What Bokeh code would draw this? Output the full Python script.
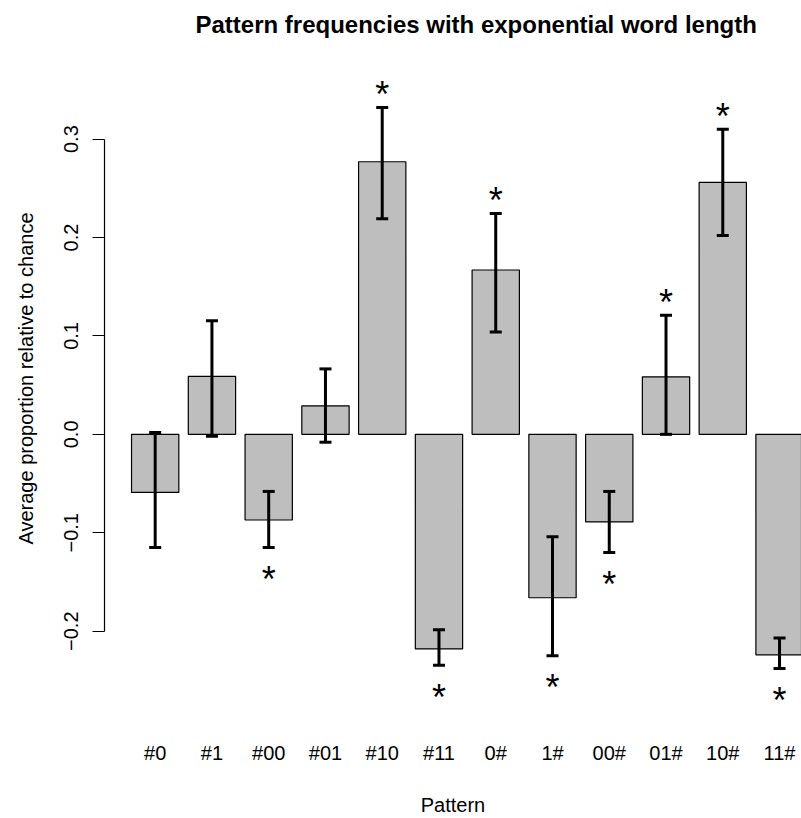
from bokeh.plotting import figure
from bokeh.models import (ColumnDataSource, Range1d, FixedTicker, Whisker, TeeHead,
                          CustomJSTickFormatter, Title)
from bokeh.core.properties import value
from bokeh.embed import file_html
from bokeh.resources import INLINE

# ---- data ----
patterns = ["#0", "#1", "#00", "#01", "#10", "#11", "0#", "1#", "00#", "01#", "10#", "11#"]
means    = [-0.059, 0.059, -0.087, 0.029, 0.277, -0.218, 0.167, -0.166, -0.089, 0.0585, 0.256, -0.224]
ci_low   = [-0.115, -0.002, -0.115, -0.008, 0.219, -0.2345, 0.104, -0.225, -0.120, 0.000, 0.202, -0.238]
ci_high  = [0.002, 0.1155, -0.058, 0.0665, 0.332, -0.1985, 0.2245, -0.104, -0.058, 0.121, 0.310, -0.207]
significant = [False, False, True, False, True, True, True, True, True, True, True, True]
y_ticks = [-0.2, -0.1, 0.0, 0.1, 0.2, 0.3]

FONT = "Liberation Sans"

xs = list(range(len(patterns)))
src = ColumnDataSource(dict(x=xs, mean=means, lo=ci_low, hi=ci_high, name=patterns))

up_x = [i for i in xs if significant[i] and means[i] > 0]
up_y = [ci_high[i] for i in up_x]
dn_x = [i for i in xs if significant[i] and means[i] <= 0]
dn_y = [ci_low[i] for i in dn_x]

p = figure(width=801, height=818, output_backend="svg", toolbar_location=None,
           x_range=Range1d(-0.893, 11.387), y_range=Range1d(-0.2816, 0.3951),
           min_border_left=104, min_border_right=0, min_border_top=44, min_border_bottom=98)
p.title = Title(text="Pattern frequencies with exponential word length",
                text_font=FONT, text_font_size="24px", text_font_style="bold",
                align="left", offset=91, standoff=16, text_color="black")
p.outline_line_color = None
p.xgrid.visible = False
p.ygrid.visible = False
p.background_fill_color = "white"
p.border_fill_color = "white"

p.vbar(x="x", top="mean", bottom=0, width=1 / 1.2, source=src,
       fill_color="#bebebe", line_color="black", line_width=1.2)

wh = Whisker(base="x", upper="hi", lower="lo", source=src, line_width=3, line_color="black",
             upper_head=TeeHead(size=12, line_width=3, line_color="black"),
             lower_head=TeeHead(size=12, line_width=3, line_color="black"),
             level="overlay")
p.add_layout(wh)

p.text(x=up_x, y=up_y, text=["*"] * len(up_x), text_font=value(FONT), text_font_size="36px",
       text_align="center", text_baseline="alphabetic", y_offset=-13, text_color="black")
p.text(x=dn_x, y=dn_y, text=["*"] * len(dn_x), text_font=value(FONT), text_font_size="36px",
       text_align="center", text_baseline="alphabetic", y_offset=32, text_color="black")

# x axis: category names only
xa = p.xaxis[0]
xa.ticker = FixedTicker(ticks=xs)
xa.major_label_overrides = {i: patterns[i] for i in xs}
xa.axis_line_color = None
xa.major_tick_line_color = None
xa.minor_tick_line_color = None
xa.major_label_text_font = FONT
xa.major_label_text_font_size = "20px"
xa.major_label_text_color = "black"
xa.major_label_standoff = 24
xa.axis_label = "Pattern"
xa.axis_label_text_font = FONT
xa.axis_label_text_font_size = "20px"
xa.axis_label_text_font_style = "normal"
xa.axis_label_text_color = "black"
xa.axis_label_standoff = 27

# y axis
ya = p.yaxis[0]
ya.ticker = FixedTicker(ticks=y_ticks)
ya.bounds = (min(y_ticks), max(y_ticks))
ya.formatter = CustomJSTickFormatter(code="""
    const s = Math.abs(tick).toFixed(1);
    return (tick < -1e-9 ? "\u2212" : "") + s;
""")
ya.major_label_orientation = "vertical"
ya.axis_line_color = "black"
ya.axis_line_width = 1.2
ya.major_tick_line_color = "black"
ya.major_tick_line_width = 1.2
ya.major_tick_in = 0
ya.major_tick_out = 12
ya.minor_tick_line_color = None
ya.major_label_text_font = FONT
ya.major_label_text_font_size = "20px"
ya.major_label_text_color = "black"
ya.major_label_standoff = 14
ya.axis_label = "Average proportion relative to chance"
ya.axis_label_text_font = FONT
ya.axis_label_text_font_size = "20px"
ya.axis_label_text_font_style = "normal"
ya.axis_label_text_color = "black"
ya.axis_label_standoff = 25

open("out.html", "w").write(file_html(p, INLINE))
